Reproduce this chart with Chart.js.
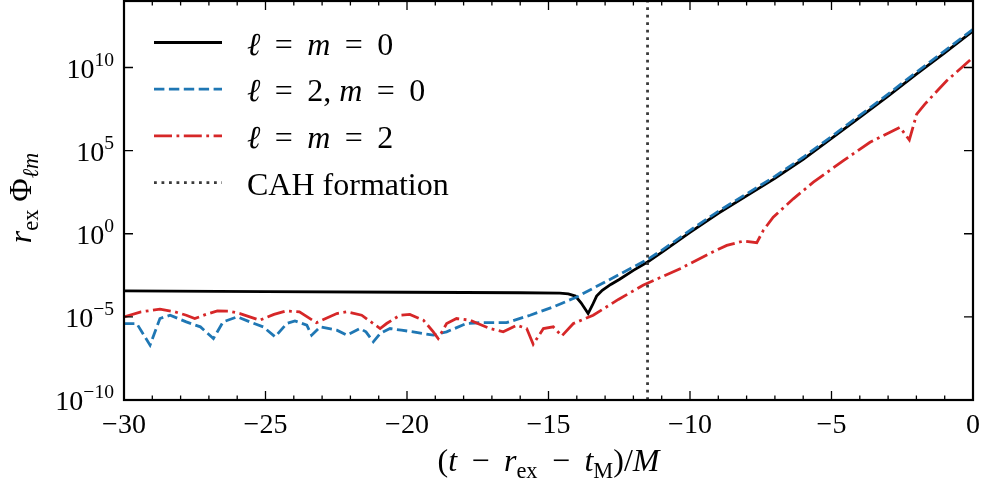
<!DOCTYPE html>
<html>
<head>
<meta charset="utf-8">
<script src="https://cdn.jsdelivr.net/npm/chart.js@4.4.0/dist/chart.umd.min.js"></script>
<style>
  html, body { margin: 0; padding: 0; background: #fff; }
  #wrap { width: 983px; height: 487px; position: relative; }
</style>
</head>
<body>
<div id="wrap"><canvas id="phi_chart"></canvas></div>
<script>
// ---- data (t in units of M, values as log10) ----
const tBlack = [-30, -25, -20, -16, -14.6, -14.3, -14.05, -13.85, -13.6, -13.45, -13.3, -13.1, -12.8, -12.5,
  -12, -11.5, -11, -10, -9, -8, -7, -6, -5, -4, -3, -2, -1, 0];
const logBlack = [-3.44, -3.48, -3.52, -3.55, -3.57, -3.62, -3.75, -4.15, -4.8, -4.3, -3.75, -3.4, -3.05, -2.75,
  -2.2, -1.7, -1.12, 0.08, 1.23, 2.28, 3.33, 4.48, 5.73, 7.0, 8.28, 9.6, 10.88, 12.2];

const tBlue = [-30, -29.55, -29.08, -28.73, -28.37, -27.8, -27.3, -26.84, -26.5, -26.0, -25.55, -25.08, -24.66,
  -24.25, -23.96, -23.54, -23.37, -23.07, -22.48, -22.13, -21.66, -21.45, -21.19, -20.95, -20.6, -20.2, -19.78,
  -19.07, -18.6, -17.9, -17.4, -16.48, -15.65, -14.83, -14.0, -13, -12, -11.5, -11, -10, -9, -8, -7, -6, -5,
  -4, -3, -2, -1, 0];
const logBlue = [-5.4, -5.4, -6.7, -5.1, -4.9, -5.3, -5.6, -6.3, -5.3, -5.0, -5.3, -5.6, -6.2,
  -5.4, -5.24, -5.5, -6.1, -5.6, -5.8, -6.1, -5.7, -5.9, -6.5, -6.0, -5.7, -5.8, -5.9,
  -6.1, -5.9, -5.4, -5.35, -5.35, -4.9, -4.4, -3.8, -2.9, -2.0, -1.55, -1.0, 0.2, 1.35, 2.4, 3.45, 4.6, 5.85,
  7.12, 8.4, 9.72, 11.0, 12.3];

const tRed = [-30, -29.4, -28.73, -28.2, -27.8, -27.5, -27.1, -26.7, -26.3, -25.9, -25.2, -24.7, -24.25, -23.8,
  -23.2, -22.48, -22.13, -21.6, -20.95, -20.72, -20.25, -19.9, -19.42, -19.07, -18.9, -18.6, -18.25, -17.77,
  -17.5, -17.07, -16.6, -16.12, -15.77, -15.54, -15.18, -14.83, -14.53, -14.12, -13.42, -12.53, -11.66, -10.35,
  -9.2, -8.7, -8.11, -7.64, -7.41, -7.06, -6.35, -5.64, -4.58, -3.64, -2.58, -2.25, -1.99, -1.7, -0.93, 0];
const logRed = [-5.0, -4.7, -4.54, -4.7, -4.9, -5.1, -4.85, -4.64, -4.65, -4.8, -5.2, -4.85, -4.64, -4.7,
  -5.35, -4.8, -4.7, -4.9, -5.7, -5.4, -4.9, -4.85, -5.2, -5.9, -6.3, -5.4, -5.1, -5.2,
  -5.4, -5.7, -5.9, -5.5, -5.7, -6.65, -5.7, -5.6, -6.15, -5.4, -4.9, -3.95, -3.1, -2.1,
  -1.1, -0.7, -0.44, -0.54, 0.2, 1.0, 2.1, 3.1, 4.4, 5.5, 6.4, 5.64, 7.2, 7.8, 9.2, 10.6];

const cahTime = -11.5;

const seriesLabels = ['ℓ = m = 0', 'ℓ = 2, m = 0', 'ℓ = m = 2', 'CAH formation'];
const xRange = [-30, 0];
const yRange = [-10, 14];              // decades
const yTickExponents = [-10, -5, 0, 5, 10];

const FONT = '"Liberation Serif", "DejaVu Serif", serif';
const EQ = ' \u2009=\u2009 ';
const MINUS = ' \u2009−\u2009 ';

function toPoints(ts, logs) {
  return ts.map((t, i) => ({ x: t, y: Math.pow(10, logs[i]) }));
}

// rich text: segments {t, it, sub, sup}
function drawRich(ctx, segs, x, y, size, align) {
  let w = 0;
  const parts = segs.map(s => {
    const fs = (s.sub || s.sup) ? size * 0.7 : size;
    const font = (s.it ? 'italic ' : '') + fs + 'px ' + FONT;
    ctx.font = font;
    const mw = ctx.measureText(s.t).width;
    const dy = s.sub ? size * 0.22 : (s.sup ? -size * 0.42 : 0);
    w += mw;
    return { t: s.t, font: font, mw: mw, dy: dy };
  });
  let cx = align === 'right' ? x - w : (align === 'center' ? x - w / 2 : x);
  ctx.textAlign = 'left';
  ctx.textBaseline = 'alphabetic';
  parts.forEach(p => {
    ctx.font = p.font;
    ctx.fillText(p.t, cx, y + p.dy);
    cx += p.mw;
  });
}

const legendText = [
  [{ t: 'ℓ', it: true }, { t: EQ }, { t: 'm', it: true }, { t: EQ + '0' }],
  [{ t: 'ℓ', it: true }, { t: EQ + '2, ' }, { t: 'm', it: true }, { t: EQ + '0' }],
  [{ t: 'ℓ', it: true }, { t: EQ }, { t: 'm', it: true }, { t: EQ + '2' }],
  [{ t: 'CAH formation' }]
];
const xTitle = [{ t: '(' }, { t: 't', it: true }, { t: MINUS }, { t: 'r', it: true }, { t: 'ex', sub: true },
  { t: MINUS }, { t: 't', it: true }, { t: 'M', sub: true }, { t: ')/' }, { t: 'M', it: true }];
const yTitle = [{ t: 'r', it: true }, { t: 'ex', sub: true }, { t: ' Φ' }, { t: 'ℓm', it: true, sub: true }];

// frame, inward ticks, log tick labels, legend and axis titles
const framePlugin = {
  id: 'frame',
  afterDraw(chart) {
    const ctx = chart.ctx;
    const a = chart.chartArea;
    const xs = chart.scales.x;
    const ys = chart.scales.y;
    ctx.save();
    ctx.strokeStyle = '#000';
    ctx.lineWidth = 1.3;
    ctx.setLineDash([]);
    ctx.beginPath();
    xs.ticks.forEach(tk => {
      const px = xs.getPixelForValue(tk.value);
      const len = tk.value % 5 === 0 ? 9 : 4.5;
      ctx.moveTo(px, a.bottom); ctx.lineTo(px, a.bottom - len);
      ctx.moveTo(px, a.top); ctx.lineTo(px, a.top + len);
    });
    yTickExponents.forEach(e => {
      const py = ys.getPixelForValue(Math.pow(10, e));
      ctx.moveTo(a.left, py); ctx.lineTo(a.left + 9, py);
      ctx.moveTo(a.right, py); ctx.lineTo(a.right - 9, py);
    });
    ctx.stroke();
    ctx.lineWidth = 2.2;
    ctx.strokeRect(a.left, a.top, a.right - a.left, a.bottom - a.top);

    ctx.fillStyle = '#000';
    yTickExponents.forEach(e => {
      const py = ys.getPixelForValue(Math.pow(10, e));
      const exp = e < 0 ? '−' + Math.abs(e) : String(e);
      drawRich(ctx, [{ t: '10' }, { t: exp, sup: true }], a.left - 10, py + 10, 28, 'right');
    });

    // legend
    chart.data.datasets.forEach((ds, i) => {
      const yy = a.top + 41.5 + i * 46.7;
      ctx.beginPath();
      ctx.setLineDash(ds.borderDash || []);
      ctx.lineWidth = ds.borderWidth;
      ctx.strokeStyle = ds.borderColor;
      ctx.lineCap = 'butt';
      ctx.moveTo(a.left + 30, yy);
      ctx.lineTo(a.left + 98, yy);
      ctx.stroke();
      ctx.setLineDash([]);
      ctx.fillStyle = '#000';
      drawRich(ctx, legendText[i], a.left + 123, yy + 12, 32, 'left');
    });

    // axis titles
    drawRich(ctx, xTitle, (a.left + a.right) / 2, 471, 32, 'center');
    ctx.translate(31, 198);
    ctx.rotate(-Math.PI / 2);
    drawRich(ctx, yTitle, 0, 0, 32, 'center');
    ctx.restore();
  }
};

function minusLabel(v) {
  return v < 0 ? '−' + Math.abs(v) : String(v);
}

document.addEventListener('DOMContentLoaded', function () {
  const ctx = document.getElementById('phi_chart').getContext('2d');

  new Chart(ctx, {
    type: 'line',
    data: {
      datasets: [{
        label: seriesLabels[0],
        data: toPoints(tBlack, logBlack),
        borderColor: '#000000',
        borderWidth: 2.8,
        order: 4
      }, {
        label: seriesLabels[1],
        data: toPoints(tBlue, logBlue),
        borderColor: '#1f77b4',
        borderWidth: 2.8,
        borderDash: [10.4, 4.5],
        order: 3
      }, {
        label: seriesLabels[2],
        data: toPoints(tRed, logRed),
        borderColor: '#d62728',
        borderWidth: 2.8,
        borderDash: [18, 4.5, 2.8, 4.5],
        order: 2
      }, {
        label: seriesLabels[3],
        data: [{ x: cahTime, y: Math.pow(10, yRange[0]) }, { x: cahTime, y: Math.pow(10, yRange[1]) }],
        borderColor: '#3a3a3a',
        borderWidth: 2.8,
        borderDash: [2.8, 4.7],
        order: 1
      }]
    },
    options: {
      responsive: true,
      maintainAspectRatio: false,
      animation: false,
      devicePixelRatio: 1,
      layout: { padding: { top: 1, right: 10, left: 0, bottom: 0 } },
      elements: {
        point: { radius: 0, hoverRadius: 0 },
        line: { tension: 0, fill: false, borderCapStyle: 'butt', borderJoinStyle: 'miter' }
      },
      plugins: {
        legend: { display: false },
        tooltip: { enabled: false }
      },
      scales: {
        x: {
          type: 'linear',
          min: xRange[0],
          max: xRange[1],
          grid: { display: false, drawTicks: false },
          border: { display: false },
          ticks: {
            stepSize: 1,
            autoSkip: false,
            maxRotation: 0,
            padding: 9,
            color: '#000',
            font: { family: FONT, size: 28 },
            callback: function (v) { return v % 5 === 0 ? minusLabel(v) : ''; }
          },
          afterFit: function (scale) {
            scale.height = 87;
            scale.paddingLeft = 0;
            scale.paddingRight = 0;
          }
        },
        y: {
          type: 'logarithmic',
          min: Math.pow(10, yRange[0]),
          max: Math.pow(10, yRange[1]),
          grid: { display: false, drawTicks: false },
          border: { display: false },
          ticks: { display: false },
          afterFit: function (scale) { scale.width = 124; }
        }
      }
    },
    plugins: [framePlugin]
  });
});
</script>
</body>
</html>
